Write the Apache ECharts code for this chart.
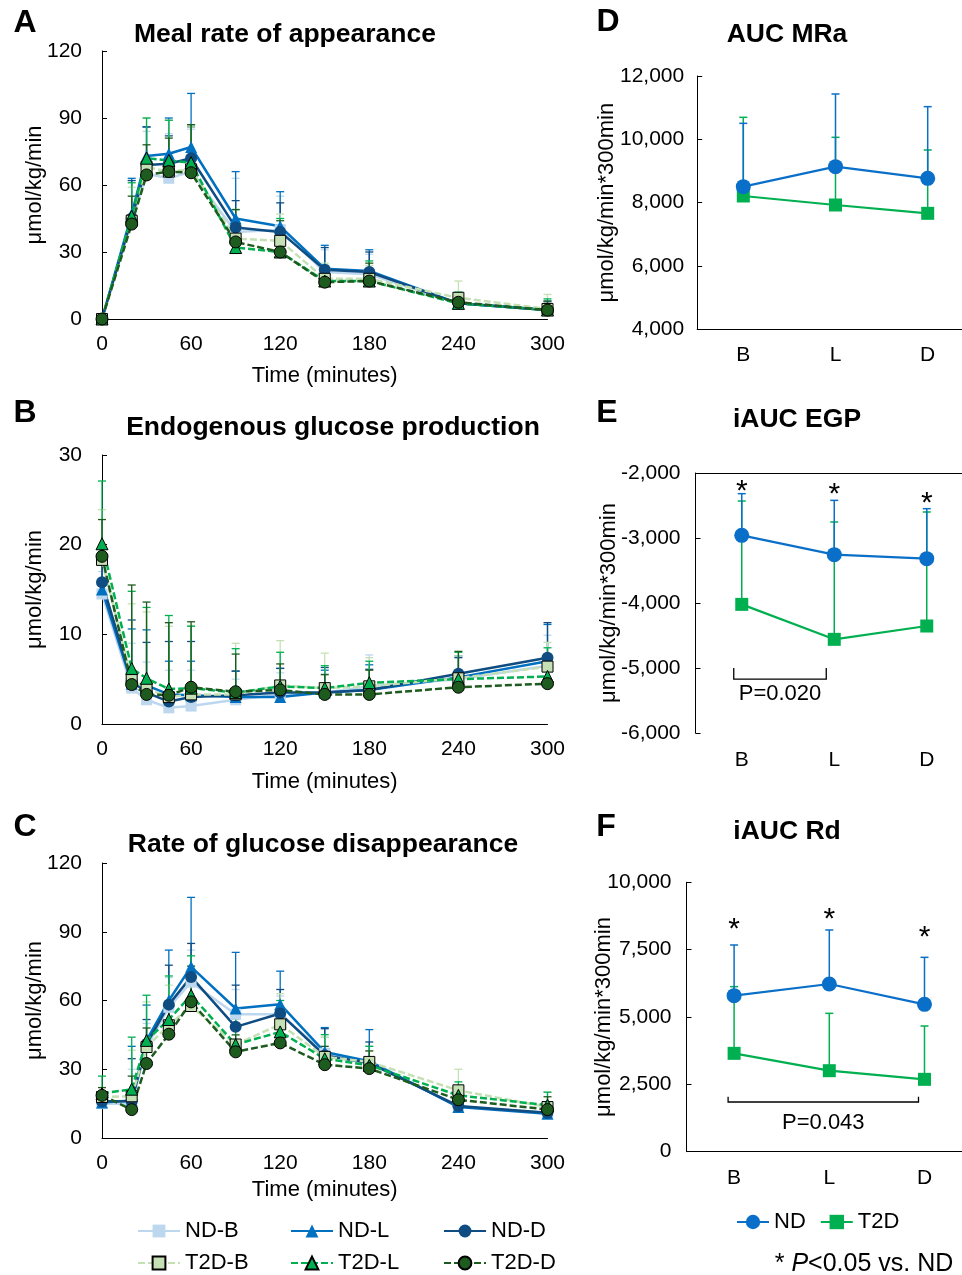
<!DOCTYPE html>
<html>
<head>
<meta charset="utf-8">
<title>Glucose flux after meals</title>
<script src="https://cdn.jsdelivr.net/npm/echarts@6/dist/echarts.min.js"></script>
<style>
html, body { margin: 0; padding: 0; background: #fff; }
#main { width: 962px; height: 1275px; }
</style>
</head>
<body>
<div id="main"></div>
<script>
// time points (minutes) and meal groups
var times = [0, 20, 30, 45, 60, 90, 120, 150, 180, 240, 300];
var groups = ['B', 'L', 'D'];

// A  Meal rate of appearance (mean / upper error)
var mraNDB  = [0, 44, 65, 63, 66, 39, 40, 21, 20, 7, 4];
var mraNDL  = [0, 47, 73, 74, 77, 45, 41.5, 22.5, 21.5, 7, 4];
var mraNDD  = [0, 45, 69, 69.5, 72, 41, 39, 22, 21, 7, 4];
var mraT2DB = [0, 44, 68, 66, 67, 36, 35, 18, 18, 9.5, 4.5];
var mraT2DL = [0, 46, 72, 71, 70, 32, 30, 17, 17, 7, 4];
var mraT2DD = [0, 42.5, 64.5, 66, 65.5, 34.5, 30, 16.5, 17, 7.5, 4];
var mraNDBErr  = [0, 18, 19, 20, 19, 24, 15, 10, 9, 5, 3];
var mraNDLErr  = [0, 16, 13, 16, 24, 21, 15.5, 10.5, 9.5, 3, 4];
var mraNDDErr  = [0, 17, 17, 12.5, 14, 12, 13, 10, 9, 3, 3];
var mraT2DBErr = [0, 15, 22, 23, 19, 13, 12, 7, 6, 7.5, 6.5];
var mraT2DLErr = [0, 15, 18, 18, 17, 17, 15, 7, 9, 5, 5];
var mraT2DDErr = [0, 12.5, 13.5, 15, 21.5, 14.5, 14, 6.5, 8, 3.5, 4];

// B  Endogenous glucose production
var egpNDB  = [14.5, 4.0, 2.7, 1.8, 2.0, 2.7, 3.3, 3.5, 4.2, 5.0, 6.5];
var egpNDL  = [15.0, 4.5, 4.3, 3.3, 3.2, 3.0, 3.0, 3.5, 3.8, 5.2, 7.0];
var egpNDD  = [15.8, 4.8, 3.5, 2.5, 3.0, 3.2, 3.5, 3.5, 3.8, 5.6, 7.4];
var egpT2DB = [18.3, 4.9, 4.0, 3.0, 3.3, 3.3, 4.3, 4.0, 4.2, 5.1, 6.4];
var egpT2DL = [20.1, 6.2, 5.1, 3.9, 4.0, 3.5, 4.2, 4.0, 4.6, 5.0, 5.3];
var egpT2DD = [18.7, 4.4, 3.3, 3.2, 4.1, 3.6, 3.8, 3.3, 3.3, 4.1, 4.5];
var egpNDBErr  = [2.5, 5.0, 4.2, 4.2, 4.0, 2.3, 2.4, 2.1, 3.5, 2.4, 3.4];
var egpNDLErr  = [3.0, 6.1, 6.2, 3.7, 3.8, 2.9, 3.2, 2.5, 2.8, 2.4, 4.1];
var egpNDDErr  = [2.2, 6.8, 5.6, 6.7, 6.2, 2.7, 2.7, 2.8, 2.3, 1.8, 3.9];
var egpT2DBErr = [5.6, 8.5, 8.5, 7.9, 7.7, 5.7, 5.0, 3.9, 3.2, 2.5, 2.7];
var egpT2DLErr = [7.0, 8.6, 7.9, 8.2, 6.9, 4.9, 3.8, 2.5, 2.4, 3.0, 3.2];
var egpT2DDErr = [4.1, 11.1, 10.3, 8.1, 7.3, 4.2, 2.9, 2.2, 2.7, 4.0, 3.0];

// C  Rate of glucose disappearance
var rdNDB  = [15, 15, 39.7, 57, 68, 54, 54, 37, 33, 13.8, 11];
var rdNDL  = [15.5, 16.4, 42.6, 60, 74.7, 56.5, 58.4, 37.5, 33.5, 13.5, 10.6];
var rdNDD  = [16, 16, 41, 58.2, 70.3, 48.5, 54.3, 36, 32.7, 14, 11];
var rdT2DB = [17.9, 18.2, 39.7, 49.2, 57.6, 40.8, 49.6, 35.4, 33.2, 20.8, 13.5];
var rdT2DL = [19.4, 21.3, 42.6, 51.7, 62.3, 40.8, 46.3, 34.6, 31.7, 18.6, 14.3];
var rdT2DD = [18.6, 12.4, 32.5, 45.3, 59.4, 37.6, 41.5, 32, 30.3, 16.7, 12.4];
var rdNDBErr  = [3, 15, 10.3, 13, 14, 10.8, 8, 7, 7, 3.2, 2];
var rdNDLErr  = [2.5, 23.6, 15.4, 22, 30.3, 24.5, 14.4, 10.7, 13.8, 5.5, 3.4];
var rdNDDErr  = [3, 18.6, 10.7, 17.2, 14.6, 18.2, 10.5, 11.7, 9.2, 4, 2.5];
var rdT2DBErr = [4.1, 20.1, 19.7, 17.5, 17.4, 9.2, 13.4, 8.6, 4.8, 9.2, 6.5];
var rdT2DLErr = [7.6, 22.7, 19.7, 19, 17.2, 11.2, 13.7, 10.5, 8.3, 5.9, 5.7];
var rdT2DDErr = [3.4, 14.6, 15.5, 14.7, 15.6, 7.4, 7.5, 8, 7.7, 5.3, 5.6];

// D  AUC MRa
var aucNd  = [8505, 9137, 8768];
var aucT2d = [8210, 7926, 7663];
var aucNdErr  = [2000, 2295, 2264];
var aucT2dErr = [2485, 2137, 2000];

// E  iAUC EGP
var egpAucNd  = [-2959, -3256, -3318];
var egpAucT2d = [-4021, -4559, -4354];
var egpAucNdErr  = [641, 835, 769];
var egpAucT2dErr = [1590, 1805, 1754];
var egpStars = [-2185, -2230, -2370];

// F  iAUC Rd
var rdAucNd  = [5792, 6225, 5470];
var rdAucT2d = [3651, 3007, 2686];
var rdAucNdErr  = [1881, 2005, 1745];
var rdAucT2dErr = [2475, 2129, 1980];
var rdStars = [8489, 8872, 8192];

var FONT = '"Liberation Sans", Arial, Helvetica, sans-serif';
var INK = '#000';

// look of each curve on the time-course panels
var looks = {
    'ND-B':  {color: '#BDD7EE', symbol: 'rect',     size: 11, dashed: false},
    'ND-L':  {color: '#0070C0', symbol: 'triangle', size: 12, dashed: false},
    'ND-D':  {color: '#0F4C81', symbol: 'circle',   size: 12, dashed: false},
    'T2D-B': {color: '#C5E0B4', symbol: 'rect',     size: 11, dashed: true},
    'T2D-L': {color: '#00B050', symbol: 'triangle', size: 12, dashed: true},
    'T2D-D': {color: '#1E5B1E', symbol: 'circle',   size: 12, dashed: true}
};
var ND_BLUE = '#0A6FC8';
var T2D_GREEN = '#00B050';

// error bar (upper only) drawn through the axis scales
function errRender(color, cap, width) {
    return function (params, api) {
        var e = api.value(2);
        if (!e) { return; }
        var p0 = api.coord([api.value(0), api.value(1)]);
        var p1 = api.coord([api.value(0), api.value(1) + e]);
        var st = {stroke: color, lineWidth: width};
        return {
            type: 'group',
            children: [
                {type: 'line', shape: {x1: p0[0], y1: p0[1], x2: p1[0], y2: p1[1]}, style: st},
                {type: 'line', shape: {x1: p1[0] - cap, y1: p1[1], x2: p1[0] + cap, y2: p1[1]}, style: st}
            ]
        };
    };
}

function starRender(params, api) {
    var p = api.coord([api.value(0), api.value(1)]);
    return {
        type: 'text', x: p[0], y: p[1] + 7,
        style: {text: '*', font: '30px ' + FONT, fill: INK,
                align: 'center', verticalAlign: 'middle', textAlign: 'center', textVerticalAlign: 'middle'}
    };
}

// significance bracket: [fromIdx, toIdx, yTop, yBottom, yText]
function bracketRender(label, off) {
    return function (params, api) {
        var a = api.coord([api.value(0), api.value(2)]);
        var b = api.coord([api.value(1), api.value(3)]);
        var t = api.coord([api.value(0), api.value(4)]);
        var x0 = a[0] + off, x1 = b[0] + off;
        return {
            type: 'group',
            children: [
                {type: 'polyline', shape: {points: [[x0, a[1]], [x0, b[1]], [x1, b[1]], [x1, a[1]]]},
                 style: {stroke: INK, lineWidth: 1.3, fill: null}},
                {type: 'text', x: (x0 + x1) / 2, y: t[1],
                 style: {text: label, font: '22px ' + FONT, fill: INK,
                         align: 'center', verticalAlign: 'middle', textAlign: 'center', textVerticalAlign: 'middle'}}
            ]
        };
    };
}

var series = [];

function addTimePanel(idx, sets) {
    var keys = ['ND-B', 'ND-L', 'ND-D', 'T2D-B', 'T2D-L', 'T2D-D'];
    // error bars first, under the lines
    keys.forEach(function (k) {
        var v = sets[k][0], e = sets[k][1];
        series.push({
            type: 'custom', name: 'err', xAxisIndex: idx, yAxisIndex: idx, z: 1, silent: true,
            renderItem: errRender(looks[k].color, 4, 1.3),
            data: times.map(function (t, i) { return [t, v[i], e[i]]; })
        });
    });
    keys.forEach(function (k) {
        var lk = looks[k], v = sets[k][0];
        series.push({
            type: 'line', name: k, xAxisIndex: idx, yAxisIndex: idx, z: 3,
            symbol: lk.symbol, symbolSize: lk.size, showSymbol: true,
            lineStyle: {color: lk.color, width: 2.5, type: lk.dashed ? [7, 3] : 'solid'},
            itemStyle: lk.dashed ? {color: lk.color, borderColor: '#000', borderWidth: 1} : {color: lk.color, borderWidth: 0},
            data: times.map(function (t, i) { return [t, v[i]]; })
        });
    });
}

addTimePanel(0, {
    'ND-B': [mraNDB, mraNDBErr], 'ND-L': [mraNDL, mraNDLErr], 'ND-D': [mraNDD, mraNDDErr],
    'T2D-B': [mraT2DB, mraT2DBErr], 'T2D-L': [mraT2DL, mraT2DLErr], 'T2D-D': [mraT2DD, mraT2DDErr]
});
addTimePanel(1, {
    'ND-B': [egpNDB, egpNDBErr], 'ND-L': [egpNDL, egpNDLErr], 'ND-D': [egpNDD, egpNDDErr],
    'T2D-B': [egpT2DB, egpT2DBErr], 'T2D-L': [egpT2DL, egpT2DLErr], 'T2D-D': [egpT2DD, egpT2DDErr]
});
addTimePanel(2, {
    'ND-B': [rdNDB, rdNDBErr], 'ND-L': [rdNDL, rdNDLErr], 'ND-D': [rdNDD, rdNDDErr],
    'T2D-B': [rdT2DB, rdT2DBErr], 'T2D-L': [rdT2DL, rdT2DLErr], 'T2D-D': [rdT2DD, rdT2DDErr]
});

function addAucPanel(idx, nd, ndErr, t2d, t2dErr) {
    [[t2d, t2dErr, T2D_GREEN], [nd, ndErr, ND_BLUE]].forEach(function (s) {
        series.push({
            type: 'custom', name: 'err', xAxisIndex: idx, yAxisIndex: idx, z: 1, silent: true,
            renderItem: errRender(s[2], 4, 1.5),
            data: groups.map(function (g, i) { return [i, s[0][i], s[1][i]]; })
        });
    });
    series.push({
        type: 'line', name: 'T2D', xAxisIndex: idx, yAxisIndex: idx, z: 3,
        symbol: 'rect', symbolSize: 13,
        lineStyle: {color: T2D_GREEN, width: 2.2}, itemStyle: {color: T2D_GREEN},
        data: groups.map(function (g, i) { return [i, t2d[i]]; })
    });
    series.push({
        type: 'line', name: 'ND', xAxisIndex: idx, yAxisIndex: idx, z: 4,
        symbol: 'circle', symbolSize: 15,
        lineStyle: {color: ND_BLUE, width: 2.2}, itemStyle: {color: ND_BLUE},
        data: groups.map(function (g, i) { return [i, nd[i]]; })
    });
}

addAucPanel(3, aucNd, aucNdErr, aucT2d, aucT2dErr);
addAucPanel(4, egpAucNd, egpAucNdErr, egpAucT2d, egpAucT2dErr);
addAucPanel(5, rdAucNd, rdAucNdErr, rdAucT2d, rdAucT2dErr);

// stars and brackets
series.push({type: 'custom', name: 'star', xAxisIndex: 4, yAxisIndex: 4, z: 5, silent: true,
    renderItem: starRender, data: groups.map(function (g, i) { return [i, egpStars[i]]; })});
series.push({type: 'custom', name: 'star', xAxisIndex: 5, yAxisIndex: 5, z: 5, silent: true,
    renderItem: starRender, data: groups.map(function (g, i) { return [i, rdStars[i]]; })});
series.push({type: 'custom', name: 'bracket', xAxisIndex: 4, yAxisIndex: 4, z: 5, silent: true,
    renderItem: bracketRender('P=0.020', -8), data: [[0, 1, -5000, -5170, -5400]]});
series.push({type: 'custom', name: 'bracket', xAxisIndex: 5, yAxisIndex: 5, z: 5, silent: true,
    renderItem: bracketRender('P=0.043', -6), data: [[0, 2, 2040, 1845, 1066]]});

// axes
var axisLineStyle = {show: true, onZero: false, lineStyle: {color: '#000', width: 1}};
var tickLabel = {color: INK, fontSize: 21, fontFamily: FONT};
var nameStyle = {color: INK, fontSize: 22, fontFamily: FONT};
function commas(v) { return v.toLocaleString('en-US'); }
function groupLabel(v) {
    var i = Math.round(v);
    return Math.abs(v - i) < 1e-6 && groups[i] ? groups[i] : '';
}

// right panels run off the page edge, so the group axis is a value axis
// whose max is cut where the page ends
var grids = [
    {left: 102, top: 51, width: 445.5, height: 268},
    {left: 102, top: 455, width: 445.5, height: 269},
    {left: 102, top: 863, width: 445.5, height: 275},
    {left: 697.2, top: 76, width: 264.8, height: 253.3},
    {left: 695.5, top: 473, width: 266.5, height: 260},
    {left: 686.5, top: 882.3, width: 275.5, height: 269.4}
];
var groupMax = [2.372, 2.381, 2.394];

var xAxes = [0, 1, 2].map(function (i) {
    return {
        type: 'value', gridIndex: i, min: 0, max: 300, interval: 60,
        axisLine: axisLineStyle, axisTick: {show: false}, splitLine: {show: false},
        axisLabel: Object.assign({margin: 15}, tickLabel),
        name: 'Time (minutes)', nameLocation: 'middle', nameGap: [46, 47, 41][i],
        nameMoveOverlap: false, nameTextStyle: nameStyle
    };
});
[3, 4, 5].forEach(function (i) {
    xAxes.push({
        type: 'value', gridIndex: i, min: -0.5, max: groupMax[i - 3],
        axisLine: i === 4 ? {show: false} : axisLineStyle, axisTick: {show: false}, splitLine: {show: false},
        axisLabel: Object.assign({margin: [15, 17, 16][i - 3], formatter: groupLabel,
                                  showMinLabel: false, showMaxLabel: false}, tickLabel)
    });
});
// iAUC EGP: horizontal axis crosses at the top
xAxes.push({
    type: 'value', gridIndex: 4, min: -0.5, max: groupMax[1], position: 'top',
    axisLine: axisLineStyle, axisTick: {show: false}, axisLabel: {show: false}, splitLine: {show: false}
});

var yRanges = [
    [0, 120, 30], [0, 30, 10], [0, 120, 30],
    [4000, 12000, 2000], [-6000, -2000, 1000], [0, 10000, 2500]
];
var yAxes = yRanges.map(function (r, i) {
    var left = i < 3;
    return {
        type: 'value', gridIndex: i, min: r[0], max: r[1], interval: r[2],
        axisLine: axisLineStyle, axisTick: {show: true, inside: true, length: 5, lineStyle: {color: '#000'}},
        splitLine: {show: false},
        axisLabel: Object.assign({margin: left ? 20 : [13, 15, 15][i - 3], formatter: left ? null : commas}, tickLabel),
        name: left ? 'μmol/kg/min' : 'μmol/kg/min*300min',
        nameLocation: 'middle', nameRotate: 90, nameMoveOverlap: false,
        nameGap: left ? 56 : [79, 76, 71.5][i - 3], nameTextStyle: nameStyle
    };
});

// panel letters and titles
function txt(x, y, s, size, bold) {
    return {
        type: 'text', x: x, y: y,
        style: {text: s, font: (bold ? 'bold ' : '') + size + 'px ' + FONT, fill: INK,
                align: 'center', verticalAlign: 'middle', textAlign: 'center', textVerticalAlign: 'middle'}
    };
}
var graphics = [
    txt(25, 23, 'A', 32, true), txt(25, 413, 'B', 32, true), txt(25, 827, 'C', 32, true),
    txt(608, 22, 'D', 32, true), txt(607, 413, 'E', 32, true), txt(606, 827, 'F', 32, true),
    txt(285, 35, 'Meal rate of appearance', 26.5, true),
    txt(333, 428, 'Endogenous glucose production', 26.5, true),
    txt(323, 845, 'Rate of glucose disappearance', 26.5, true),
    txt(787, 35, 'AUC MRa', 26.5, true),
    txt(797, 420, 'iAUC EGP', 26.5, true),
    txt(787, 832, 'iAUC Rd', 26.5, true),
    {
        type: 'text', x: 864, y: 1264,
        style: {
            text: '{a|* }{b|P}{a|<0.05 vs. ND}',
            align: 'center', verticalAlign: 'middle', textAlign: 'center', textVerticalAlign: 'middle',
            rich: {
                a: {font: '25px ' + FONT, fill: INK, color: INK},
                b: {font: 'italic 25px ' + FONT, fill: INK, color: INK}
            }
        }
    }
];

function oneLegend(name, left, top) {
    return {
        data: [name], left: left, top: top, padding: 0, itemWidth: 42, itemHeight: 16,
        selectedMode: false, textStyle: {color: INK, fontSize: 22, fontFamily: FONT}
    };
}
var legends = [
    oneLegend('ND-B', 137, 1220), oneLegend('ND-L', 290, 1220), oneLegend('ND-D', 443, 1220),
    oneLegend('T2D-B', 137, 1252), oneLegend('T2D-L', 290, 1252), oneLegend('T2D-D', 443, 1252),
    {
        data: ['ND', 'T2D'], left: 736, top: 1211, padding: 0, itemWidth: 32, itemHeight: 18, itemGap: 14,
        selectedMode: false, textStyle: {color: INK, fontSize: 22, fontFamily: FONT}
    }
];

var myChart = echarts.init(document.getElementById('main'));
myChart.setOption({
    animation: false,
    backgroundColor: '#fff',
    textStyle: {fontFamily: FONT},
    grid: grids,
    xAxis: xAxes,
    yAxis: yAxes,
    legend: legends,
    graphic: graphics,
    series: series
});
</script>
</body>
</html>
